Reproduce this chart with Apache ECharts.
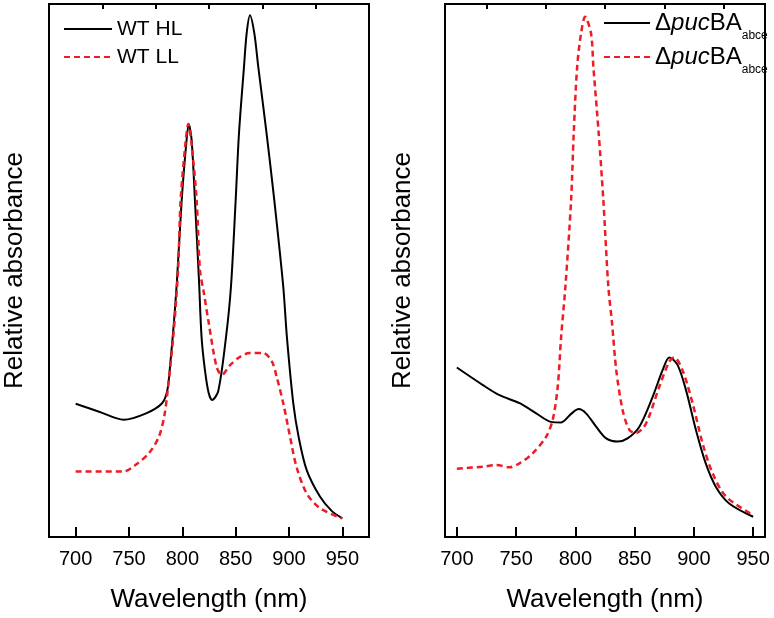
<!DOCTYPE html>
<html>
<head>
<meta charset="utf-8">
<script src="https://cdn.jsdelivr.net/npm/echarts@6/dist/echarts.min.js"></script>
<style>html,body{margin:0;padding:0;background:#fff}#c{width:774px;height:618px}</style>
</head>
<body>
<div id="c"></div>
<script>
// Tick values (nm)
var majorTicks = [700, 750, 800, 850, 900, 950];
var minorTicks = [725, 775, 825, 875, 925];

// Left panel: WT high light / low light  [wavelength nm, relative absorbance]
var wtHL = [[700,25.0],[722,23.5],[745,22.0],[766,23.2],[781,25.1],[786,27.6],[789,33.2],[792,40.0],[795,48.2],[799.4,63.2],[804,74.5],[806,77.5],[808.7,74.5],[811.8,63.2],[815.6,48.2],[818,37.6],[821.2,31.3],[824.7,27.0],[828,25.7],[833.7,27.4],[841,37.6],[845.6,47.0],[850,63.2],[853.1,75.7],[857.8,88.2],[860.3,94.5],[863.4,97.9],[867.5,94.5],[871.2,88.2],[879,75.7],[886.2,63.2],[894.6,47.0],[898,37.6],[904,25.1],[909,18.8],[916.5,12.6],[929,7.6],[940,4.9],[950,3.5]];
var wtLL = [[700,12.3],[745,12.3],[756,13.5],[769,15.8],[778,18.8],[783,22.6],[786,27.0],[791.5,37.6],[796,50.1],[798.4,63.2],[803,74.0],[805.6,77.5],[808.5,74.0],[813.4,63.2],[816.5,50.1],[820,46.0],[824.3,40.7],[832,32.0],[837,30.4],[845,32.3],[854,33.8],[863,34.5],[876,34.5],[884,32.9],[888.4,30.1],[894.6,25.1],[901,18.8],[907,13.2],[916.5,8.2],[929,5.4],[950,3.5]];

// Right panel: ΔpucBA_abce (two conditions)
var pucHL = [[700,31.8],[722,28.5],[736,26.6],[753,25.1],[767,23.2],[779.5,21.6],[788,21.5],[796.4,23.1],[802.8,24.0],[809,23.2],[817.5,20.7],[826,18.5],[835.7,17.9],[844,18.5],[854,20.7],[865.2,26.3],[873.6,31.3],[879.2,33.7],[886.2,32.3],[893.3,27.6],[901.7,20.1],[910,13.8],[918.6,9.4],[929.8,6.3],[950,3.8]];
var pucLL = [[700,12.8],[722,13.2],[733,13.5],[744.4,13.1],[752.8,13.8],[764,15.7],[775.3,18.8],[780.9,22.0],[785.1,28.2],[788,37.6],[791.6,47.0],[796.4,63.2],[798.6,75.7],[801.5,88.2],[804.8,94.5],[808.2,97.6],[813.2,94.5],[815.2,88.2],[819.7,75.7],[823.6,63.2],[827.8,47.0],[831,40.0],[834.5,31.3],[839.9,23.8],[845.5,20.1],[851.2,19.5],[859.6,21.3],[870.8,28.2],[879.2,32.9],[883.4,33.7],[890.4,31.3],[898.9,25.1],[907.3,17.6],[915.7,12.0],[927,7.6],[950,4.1]];

var FONT = 'Arial, "Liberation Sans", sans-serif';
var RED = '#ee1c25';

function majorX(grid, min, max) {
  return {
    type: 'value', gridIndex: grid, min: min, max: max,
    axisLine: {show: false},
    splitLine: {show: false},
    axisTick: {show: true, inside: true, length: 10, customValues: majorTicks, lineStyle: {color: '#000', width: 2}},
    axisLabel: {show: true, margin: 12, customValues: majorTicks, color: '#000', fontSize: 20, fontFamily: FONT},
    name: 'Wavelength (nm)', nameLocation: 'middle', nameGap: 50,
    nameTextStyle: {color: '#000', fontSize: 26, fontFamily: FONT}
  };
}
function minorX(grid, min, max) {
  return {
    type: 'value', gridIndex: grid, min: min, max: max,
    axisLine: {show: false}, splitLine: {show: false},
    axisTick: {show: true, inside: true, length: 5, customValues: minorTicks, lineStyle: {color: '#000', width: 2}},
    axisLabel: {show: false}
  };
}
function yAx(grid, gap) {
  return {
    type: 'value', gridIndex: grid, min: 0, max: 100,
    axisLine: {show: false}, axisTick: {show: false}, axisLabel: {show: false}, splitLine: {show: false},
    name: 'Relative absorbance', nameLocation: 'middle', nameGap: gap, nameRotate: 90,
    nameTextStyle: {color: '#000', fontSize: 26, fontFamily: FONT}
  };
}
function line(name, data, xi, yi, color, dashed) {
  return {
    type: 'line', name: name, data: data, xAxisIndex: xi, yAxisIndex: yi,
    symbol: 'none', smooth: 0.3,
    lineStyle: {color: color, width: dashed ? 2.5 : 2, type: dashed ? [6, 4] : 'solid'},
    itemStyle: {color: color}
  };
}

var chart = echarts.init(document.getElementById('c'), null, {renderer: 'canvas'});
chart.setOption({
  animation: false,
  backgroundColor: '#fff',
  grid: [
    {left: 49, top: 4, width: 320, height: 533, show: true, borderColor: '#000', borderWidth: 2, backgroundColor: 'transparent'},
    {left: 445, top: 4, width: 320, height: 533, show: true, borderColor: '#000', borderWidth: 2, backgroundColor: 'transparent'}
  ],
  xAxis: [majorX(0, 675, 975), minorX(0, 675, 975), majorX(1, 690, 960), minorX(1, 690, 960)],
  yAxis: [yAx(0, 21), yAx(1, 29)],
  legend: [
    {
      orient: 'vertical', left: 63, top: 18, padding: 0, itemWidth: 48, itemHeight: 14, itemGap: 6,
      data: ['WT HL', 'WT LL'],
      itemStyle: {opacity: 0},
      textStyle: {color: '#000', fontSize: 21, fontFamily: FONT, lineHeight: 22}
    },
    {
      orient: 'vertical', left: 603, top: 8, padding: 0, itemWidth: 46, itemHeight: 14, itemGap: 0,
      data: ['ΔpucBA_abce HL', 'ΔpucBA_abce LL'],
      itemStyle: {opacity: 0},
      formatter: function () { return '{d|Δ}{i|puc}{n|BA}{s|abce}'; },
      textStyle: {
        color: '#000', fontSize: 24, fontFamily: FONT,
        rich: {
          d: {fontSize: 24, fontFamily: FONT, color: '#000', lineHeight: 30, verticalAlign: 'middle'},
          i: {fontSize: 24, fontFamily: FONT, color: '#000', fontStyle: 'italic', lineHeight: 30, verticalAlign: 'middle'},
          n: {fontSize: 24, fontFamily: FONT, color: '#000', lineHeight: 30, verticalAlign: 'middle'},
          s: {fontSize: 12, fontFamily: FONT, color: '#000', lineHeight: 13, verticalAlign: 'top', padding: [22, 0, 0, 0]}
        }
      }
    }
  ],
  series: [
    line('WT HL', wtHL, 0, 0, '#000', false),
    line('WT LL', wtLL, 0, 0, RED, true),
    line('ΔpucBA_abce HL', pucHL, 2, 1, '#000', false),
    line('ΔpucBA_abce LL', pucLL, 2, 1, RED, true)
  ]
});
</script>
</body>
</html>
